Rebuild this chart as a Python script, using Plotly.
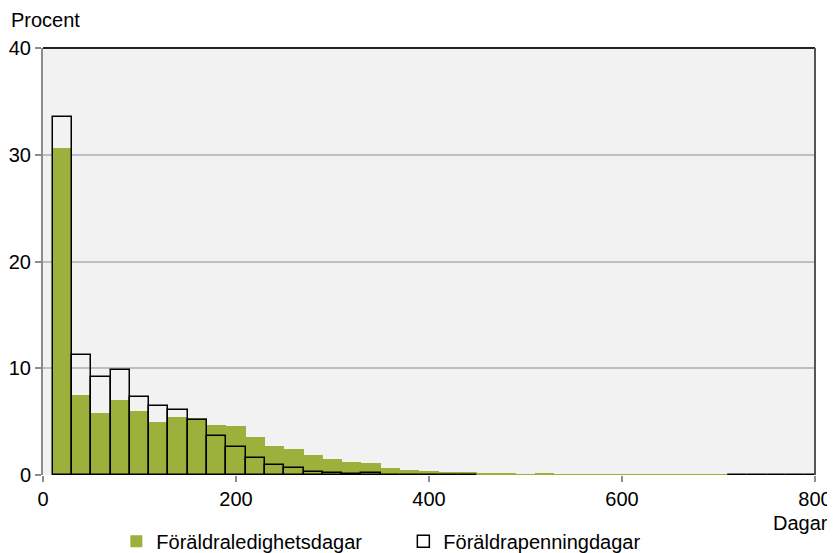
import plotly.graph_objects as go

# bin centres (days), 20-day bins starting at 10
bin_centres = [20, 40, 60, 80, 100, 120, 140, 160, 180, 200,
               220, 240, 260, 280, 300, 320, 340, 360, 380, 400,
               420, 440, 460, 480, 500, 520, 540, 560, 580, 600,
               620, 640, 660, 680, 700, 720, 740, 760, 780, 800]

ledighet = [30.6, 7.5, 5.8, 7.05, 6.0, 4.95, 5.45, 5.35, 4.7, 4.55,
            3.6, 2.7, 2.45, 1.9, 1.5, 1.25, 1.1, 0.68, 0.5, 0.38,
            0.32, 0.28, 0.19, 0.1, 0.03, 0.1, 0.04, 0.03, 0.01, 0.01,
            0.01, 0.01, 0.01, 0.01, 0.01, None, None, None, None, None]

penning = [33.5, 11.2, 9.2, 9.8, 7.3, 6.45, 6.05, 5.15, 3.65, 2.6,
           1.55, 0.9, 0.65, 0.27, 0.17, 0.07, 0.17, 0.04, 0.03, 0.02,
           0.02, 0.02, None, None, None, None, None, None, None, None,
           None, None, None, None, None, 0.02, 0.02, 0.02, 0.02, 0.02]

x_ticks = [0, 200, 400, 600, 800]
y_ticks = [0, 10, 20, 30, 40]

FONT = "Liberation Sans, Arial, sans-serif"
GREEN = "#9bb13c"

fig = go.Figure()
fig.add_trace(go.Bar(x = bin_centres, y = ledighet, width = 20, name = "Föräldraledighetsdagar",
                     marker = dict(color = GREEN, line = dict(width = 0))))
fig.add_trace(go.Bar(x = bin_centres, y = penning, width = 20, name = "Föräldrapenningdagar",
                     marker = dict(color = "rgba(0,0,0,0)", line = dict(color = "black", width = 1.5))))

# page body adds an 8px margin, so the figure is sized 8px smaller
fig.update_layout(
    width = 827, height = 545,
    margin = dict(l = 35, r = 20, t = 40, b = 78, autoexpand = False),
    barmode = "overlay", bargap = 0,
    paper_bgcolor = "white", plot_bgcolor = "#f2f2f2",
    font = dict(family = FONT, size = 20, color = "black"),
    showlegend = True,
    legend = dict(orientation = "h", x = 0.095, xanchor = "left", y = -0.155, yanchor = "middle",
                  font = dict(size = 20), itemwidth = 30, entrywidth = 242, traceorder = "normal",
                  bgcolor = "rgba(0,0,0,0)"),
    xaxis = dict(range = [0, 800], tickvals = x_ticks, ticks = "outside", ticklen = 6, tickwidth = 2,
                 tickcolor = "#8c8c8c", showgrid = False, zeroline = False, showline = False,
                 automargin = False),
    yaxis = dict(range = [0, 40], tickvals = y_ticks, ticks = "outside", ticklen = 6, tickwidth = 2,
                 tickcolor = "#8c8c8c", showgrid = True, gridcolor = "#bfbfbf", gridwidth = 1.5,
                 zeroline = False, showline = True, linecolor = "#8c8c8c", linewidth = 2,
                 automargin = False),
)

# frame: top and right edges
fig.add_shape(type = "line", xref = "paper", yref = "paper", x0 = 0, x1 = 1, y0 = 1, y1 = 1,
              line = dict(color = "#222222", width = 2), layer = "above")
fig.add_shape(type = "line", xref = "paper", yref = "paper", x0 = 1, x1 = 1, y0 = 0, y1 = 1,
              line = dict(color = "#555555", width = 2), layer = "above")

fig.add_annotation(text = "Procent", xref = "paper", yref = "paper", x = 0, xshift = -34, y = 1,
                   xanchor = "left", yanchor = "bottom", yshift = 15, showarrow = False,
                   font = dict(size = 20))
fig.add_annotation(text = "Dagar", xref = "paper", yref = "paper", x = 1, xshift = 15, y = -0.112,
                   xanchor = "right", yanchor = "middle", showarrow = False,
                   font = dict(size = 20))

fig.write_html("out.html")
